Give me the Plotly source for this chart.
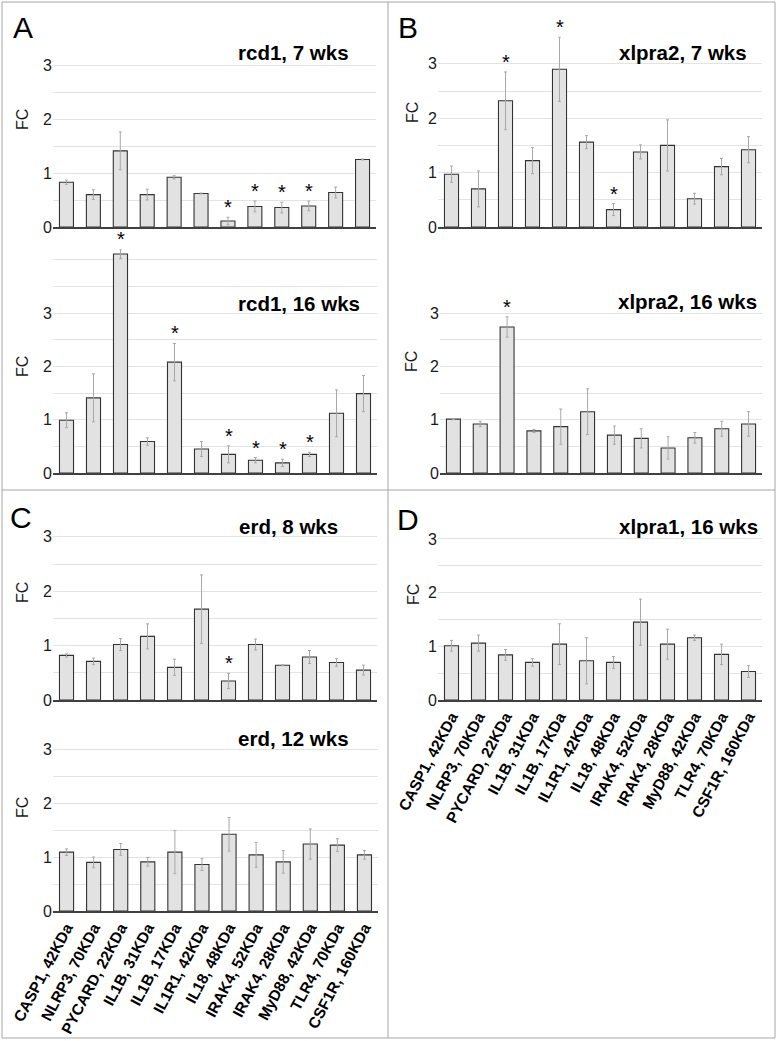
import plotly.graph_objects as go

W, H = 777, 1041

categories = ["CASP1, 42KDa", "NLRP3, 70KDa", "PYCARD, 22KDa", "IL1B, 31KDa",
              "IL1B, 17KDa", "IL1R1, 42KDa", "IL18, 48KDa", "IRAK4, 52KDa",
              "IRAK4, 28KDa", "MyD88, 42KDa", "TLR4, 70KDa", "CSF1R, 160KDa"]

# rcd1, 7 wks
rcd1_7_fc = [0.83, 0.60, 1.41, 0.60, 0.92, 0.62, 0.11, 0.38, 0.36, 0.39, 0.64, 1.25]
rcd1_7_err = [0.04, 0.09, 0.35, 0.10, 0.03, 0.01, 0.07, 0.10, 0.10, 0.09, 0.10, 0.01]
rcd1_7_sig = [6, 7, 8, 9]

# rcd1, 16 wks
rcd1_16_fc = [0.99, 1.41, 4.11, 0.59, 2.08, 0.45, 0.35, 0.24, 0.19, 0.35, 1.12, 1.49]
rcd1_16_err = [0.14, 0.45, 0.09, 0.07, 0.35, 0.14, 0.16, 0.05, 0.07, 0.04, 0.44, 0.34]
rcd1_16_sig = [2, 4, 6, 7, 8, 9]

# xlpra2, 7 wks
xlpra2_7_fc = [0.97, 0.70, 2.32, 1.22, 2.90, 1.56, 0.32, 1.38, 1.50, 0.52, 1.11, 1.42]
xlpra2_7_err = [0.15, 0.33, 0.53, 0.24, 0.59, 0.12, 0.11, 0.13, 0.47, 0.10, 0.15, 0.24]
xlpra2_7_sig = [2, 4, 6]

# xlpra2, 16 wks
xlpra2_16_fc = [1.01, 0.92, 2.74, 0.79, 0.87, 1.15, 0.71, 0.65, 0.47, 0.66, 0.83, 0.92]
xlpra2_16_err = [0.01, 0.05, 0.19, 0.03, 0.33, 0.43, 0.17, 0.18, 0.21, 0.10, 0.14, 0.23]
xlpra2_16_sig = [2]

# erd, 8 wks
erd_8_fc = [0.82, 0.71, 1.02, 1.17, 0.60, 1.67, 0.35, 1.02, 0.64, 0.79, 0.69, 0.55]
erd_8_err = [0.03, 0.06, 0.11, 0.23, 0.15, 0.63, 0.14, 0.10, 0.01, 0.12, 0.07, 0.09]
erd_8_sig = [6]

# erd, 12 wks
erd_12_fc = [1.09, 0.90, 1.14, 0.91, 1.09, 0.86, 1.42, 1.04, 0.91, 1.24, 1.22, 1.04]
erd_12_err = [0.06, 0.10, 0.11, 0.08, 0.40, 0.11, 0.31, 0.23, 0.21, 0.28, 0.12, 0.08]
erd_12_sig = []

# xlpra1, 16 wks
xlpra1_16_fc = [1.01, 1.06, 0.84, 0.70, 1.04, 0.73, 0.70, 1.45, 1.04, 1.16, 0.85, 0.53]
xlpra1_16_err = [0.10, 0.15, 0.10, 0.07, 0.38, 0.43, 0.11, 0.43, 0.28, 0.05, 0.19, 0.11]
xlpra1_16_sig = []

panel_titles = ["rcd1, 7 wks", "rcd1, 16 wks", "xlpra2, 7 wks", "xlpra2, 16 wks",
                "erd, 8 wks", "erd, 12 wks", "xlpra1, 16 wks"]
panel_letters = ["A", "B", "C", "D"]

series = [
    (rcd1_7_fc, rcd1_7_err, rcd1_7_sig),
    (rcd1_16_fc, rcd1_16_err, rcd1_16_sig),
    (xlpra2_7_fc, xlpra2_7_err, xlpra2_7_sig),
    (xlpra2_16_fc, xlpra2_16_err, xlpra2_16_sig),
    (erd_8_fc, erd_8_err, erd_8_sig),
    (erd_12_fc, erd_12_err, erd_12_sig),
    (xlpra1_16_fc, xlpra1_16_err, xlpra1_16_sig),
]

# layout in pixels: x0, x1, y_zero, px_per_unit, ymax, title(right x, y), FC (x, y), show x labels
geom = [
    dict(x0=53, x1=376, yz=227, ppu=54.0, ymax=3.5, tx=351, ty=53, fx=22, fy=120, lab=False),
    dict(x0=53, x1=377, yz=473, ppu=53.3, ymax=4.2, tx=362, ty=303, fx=22, fy=367, lab=False),
    dict(x0=438, x1=762, yz=227, ppu=54.4, ymax=3.5, tx=749, ty=53, fx=413, fy=113, lab=False),
    dict(x0=440, x1=762, yz=473, ppu=53.3, ymax=3.5, tx=759, ty=301, fx=412, fy=362, lab=False),
    dict(x0=53, x1=377, yz=700, ppu=54.4, ymax=3.5, tx=340, ty=526, fx=22, fy=593, lab=False),
    dict(x0=53, x1=378, yz=911, ppu=54.0, ymax=3.5, tx=351, ty=738, fx=22, fy=808, lab=True),
    dict(x0=438, x1=762, yz=700, ppu=53.7, ymax=3.5, tx=760, ty=526, fx=413, fy=595, lab=True),
]
letter_pos = [(23, 28), (408, 28), (21, 518), (408, 519)]

FONT = "Liberation Sans, Arial, sans-serif"

fig = go.Figure()
annotations = []
layout = {}

for i, ((fc, err, sig), g, title) in enumerate(zip(series, geom, panel_titles)):
    n = i + 1
    xa = "x" if n == 1 else f"x{n}"
    ya = "y" if n == 1 else f"y{n}"
    fig.add_trace(go.Bar(
        x=categories, y=fc, xaxis=xa, yaxis=ya,
        marker=dict(color="#e2e2e2", line=dict(color="#333333", width=1.1)),
        error_y=dict(type="data", array=err, visible=True, color="#a8a8a8",
                     thickness=1, width=1.5),
        showlegend=False, hoverinfo="skip",
    ))
    ytop = g["yz"] - g["ymax"] * g["ppu"]
    ticks = [k * 0.5 for k in range(int(g["ymax"] / 0.5) + 1)]
    ttext = [str(int(t)) if (t == int(t) and t <= 3) else "" for t in ticks]
    layout[f"xaxis{n if n > 1 else ''}"] = dict(
        domain=[g["x0"] / W, g["x1"] / W], anchor=ya, type="category",
        categoryorder="array", categoryarray=categories,
        showgrid=False, showline=True, linecolor="#404040", linewidth=1.5,
        ticks="", showticklabels=g["lab"], tickangle=-62, automargin=False,
        tickfont=dict(family=FONT, size=15.5, color="black", weight="bold"),
        fixedrange=True,
    )
    layout[f"yaxis{n if n > 1 else ''}"] = dict(
        domain=[1 - g["yz"] / H, 1 - ytop / H], anchor=xa,
        range=[0, g["ymax"]], tickvals=ticks, ticktext=ttext,
        showgrid=True, gridcolor="#e3e3e3", gridwidth=1,
        zeroline=False, showline=False, ticks="", automargin=False,
        tickfont=dict(family=FONT, size=16, color="#1a1a1a"),
        fixedrange=True,
    )
    # significance stars
    for k in sig:
        annotations.append(dict(
            x=categories[k], y=fc[k] + err[k], xref=xa, yref=ya,
            text="*", showarrow=False, yanchor="middle", yshift=10,
            font=dict(family=FONT, size=20, color="black"),
        ))
    # panel title
    annotations.append(dict(
        x=g["tx"] / W, y=1 - g["ty"] / H, xref="paper", yref="paper",
        text=f"<b>{title}</b>", showarrow=False, xanchor="right", yanchor="middle",
        font=dict(family=FONT, size=20.5, color="black"),
    ))
    # FC axis label
    annotations.append(dict(
        x=g["fx"] / W, y=1 - g["fy"] / H, xref="paper", yref="paper",
        text="FC", showarrow=False, textangle=-90, xanchor="center", yanchor="middle",
        font=dict(family=FONT, size=16, color="#1a1a1a"),
    ))

for letter, (lx, ly) in zip(panel_letters, letter_pos):
    annotations.append(dict(
        x=lx / W, y=1 - ly / H, xref="paper", yref="paper",
        text=letter, showarrow=False, xanchor="center", yanchor="middle",
        font=dict(family=FONT, size=30, color="black"),
    ))

border = "#a6a6a6"
shapes = [
    dict(type="rect", xref="paper", yref="paper", x0=2 / W, x1=775 / W,
         y0=1 - 1038 / H, y1=1 - 2 / H, line=dict(color=border, width=1)),
    dict(type="line", xref="paper", yref="paper", x0=388 / W, x1=388 / W,
         y0=1 - 1038 / H, y1=1 - 2 / H, line=dict(color=border, width=1)),
    dict(type="line", xref="paper", yref="paper", x0=2 / W, x1=775 / W,
         y0=1 - 490 / H, y1=1 - 490 / H, line=dict(color=border, width=1)),
]

fig.update_layout(
    width=W, height=H, autosize=False,
    margin=dict(l=0, r=0, t=0, b=0, pad=0, autoexpand=False),
    paper_bgcolor="white", plot_bgcolor="white",
    bargap=0.48, annotations=annotations, shapes=shapes,
    font=dict(family=FONT),
    **layout,
)

fig.write_html("out.html", config={"displayModeBar": False},
               post_script="document.body.style.margin='0';document.body.style.overflow='hidden';")
